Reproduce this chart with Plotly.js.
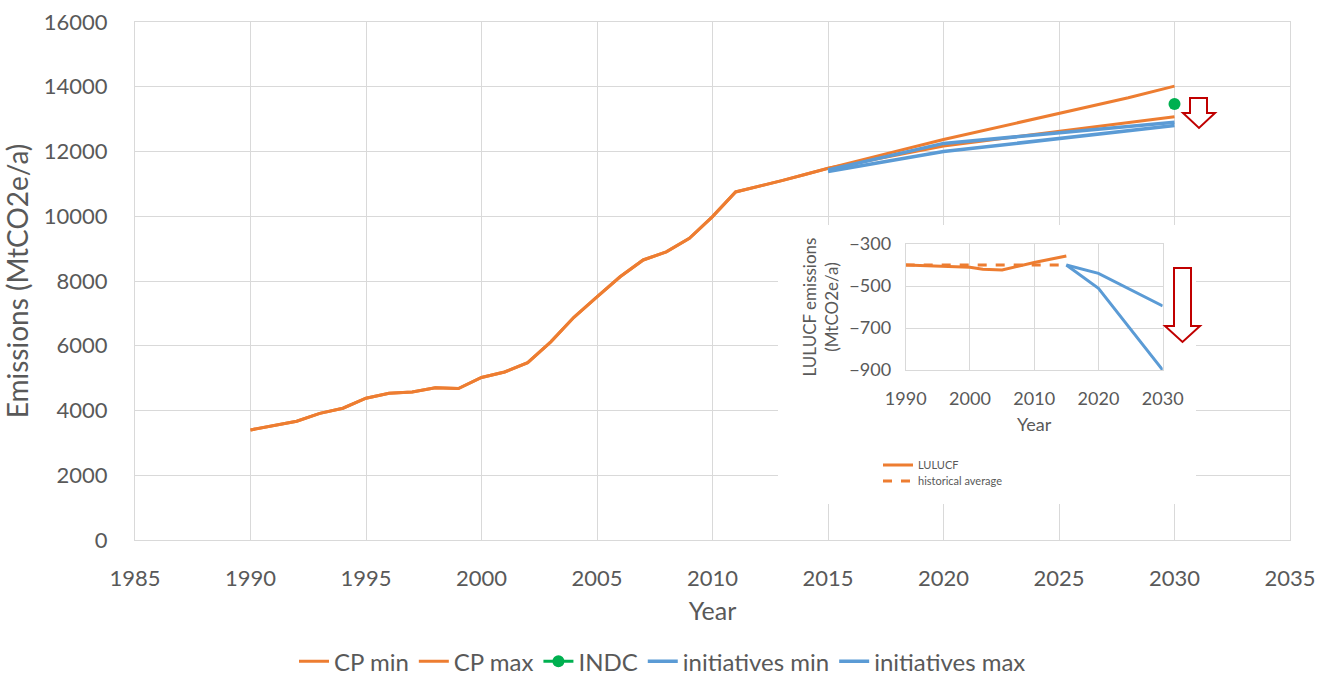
<!DOCTYPE html>
<html>
<head>
<meta charset="utf-8">
<script src="https://cdn.plot.ly/plotly-3.0.1.min.js"></script>
<style>html,body{margin:0;padding:0;background:#fff;}#chart{width:1333px;height:678px;}</style>
</head>
<body>
<div id="chart"></div>
<script>
// ---- Main chart data ----
const histYears = [1990,1991,1992,1993,1994,1995,1996,1997,1998,1999,2000,2001,2002,2003,2004,2005,2006,2007,2008,2009,2010,2011,2012,2013,2014];
const histValues = [3400,3530,3670,3910,4070,4380,4530,4570,4700,4680,5020,5190,5480,6120,6880,7510,8130,8650,8900,9320,9990,10750,10920,11100,11290];
const cpMinYears = [2015,2020,2025,2028,2030];
const cpMinValues = [11480,12170,12620,12880,13070];
const cpMaxYears = [2015,2020,2025,2028,2030];
const cpMaxValues = [11480,12370,13170,13660,14020];
const indcYears = [2030];
const indcValues = [13470];
const initMinYears = [2015,2020,2030];
const initMinValues = [11380,12000,12800];
const initMaxYears = [2015,2020,2030];
const initMaxValues = [11430,12250,12900];

// ---- Inset (LULUCF) data ----
const lulucfYears = [1990,2000,2002,2005,2010,2015];
const lulucfValues = [-400,-411,-420,-424,-388,-357];
const histAvgYears = [1990,2015];
const histAvgValues = [-400,-400];
const insetInitMinYears = [2015,2020,2030];
const insetInitMinValues = [-400,-511,-900];
const insetInitMaxYears = [2015,2020,2030];
const insetInitMaxValues = [-400,-440,-595];

const ORANGE = '#ED7D31', BLUE = '#5B9BD5', GREEN = '#00B050', RED = '#C00000';
const TXT = '#595959', GRID = '#D9D9D9';
const FONT = 'Lato, "Open Sans", sans-serif';

const traces = [
  {x: histYears.concat(cpMinYears), y: histValues.concat(cpMinValues), name: 'CP min', mode: 'lines',
   line: {color: ORANGE, width: 3}, xaxis: 'x', yaxis: 'y', legend: 'legend'},
  {x: histYears.concat(cpMaxYears), y: histValues.concat(cpMaxValues), name: 'CP max', mode: 'lines',
   line: {color: ORANGE, width: 3}, xaxis: 'x', yaxis: 'y', legend: 'legend'},
  {x: indcYears, y: indcValues, name: 'INDC', mode: 'lines+markers',
   line: {color: GREEN, width: 3}, marker: {color: GREEN, size: 12}, xaxis: 'x', yaxis: 'y', legend: 'legend'},
  {x: initMinYears, y: initMinValues, name: 'initiatives min', mode: 'lines',
   line: {color: BLUE, width: 3.5}, xaxis: 'x', yaxis: 'y', legend: 'legend'},
  {x: initMaxYears, y: initMaxValues, name: 'initiatives max', mode: 'lines',
   line: {color: BLUE, width: 3.5}, xaxis: 'x', yaxis: 'y', legend: 'legend'},
  // inset
  {x: lulucfYears, y: lulucfValues, name: 'LULUCF', mode: 'lines',
   line: {color: ORANGE, width: 3}, xaxis: 'x2', yaxis: 'y2', legend: 'legend2'},
  {x: histAvgYears, y: histAvgValues, name: 'historical average', mode: 'lines',
   line: {color: ORANGE, width: 3, dash: 'dash'}, xaxis: 'x2', yaxis: 'y2', legend: 'legend3'},
  {x: insetInitMinYears, y: insetInitMinValues, name: 'initiatives min (LULUCF)', mode: 'lines', showlegend: false,
   line: {color: BLUE, width: 3}, xaxis: 'x2', yaxis: 'y2'},
  {x: insetInitMaxYears, y: insetInitMaxValues, name: 'initiatives max (LULUCF)', mode: 'lines', showlegend: false,
   line: {color: BLUE, width: 3}, xaxis: 'x2', yaxis: 'y2'}
];

// pixel -> paper / data helpers for decorations
const L = 135, R = 1290, T = 22, B = 540;
const X0 = 1985, X1 = 2035, Y0 = 0, Y1 = 16000;
const px = v => (v - L) / (R - L);
const py = v => (B - v) / (B - T);
const dx = v => X0 + px(v) * (X1 - X0);
const dy = v => Y0 + py(v) * (Y1 - Y0);
function arrowPath(stemL, stemR, top, headY, headL, headR, tipX, tipY) {
  const pts = [[stemL,top],[stemR,top],[stemR,headY],[headR,headY],[tipX,tipY],[headL,headY],[stemL,headY]];
  return 'M' + pts.map(p => px(p[0]).toFixed(5) + ',' + py(p[1]).toFixed(5)).join(' L') + ' Z';
}

const smallLegend = (xPix, yPix) => ({
  orientation: 'v', x: px(xPix), xanchor: 'left', y: py(yPix), yanchor: 'middle',
  bgcolor: 'rgba(0,0,0,0)', itemwidth: 30, tracegroupgap: 0,
  font: {size: 11, color: TXT, family: FONT}
});

const layout = {
  width: 1333, height: 678,
  margin: {l: L, r: 1333 - R, t: T, b: 678 - B},
  paper_bgcolor: '#FFFFFF', plot_bgcolor: '#FFFFFF',
  font: {family: FONT, color: TXT, size: 20},
  showlegend: true,
  xaxis: {
    domain: [0, 1], range: [X0, X1], dtick: 5, tick0: 1985,
    showgrid: true, gridcolor: GRID, gridwidth: 1, zeroline: false,
    showline: true, linecolor: GRID, linewidth: 1, mirror: true,
    ticks: '', ticklabelstandoff: 19, exponentformat: 'none', separatethousands: false,
    tickfont: {size: 22, color: TXT, family: FONT},
    title: {text: 'Year', font: {size: 25, color: TXT, family: FONT}, standoff: 12}
  },
  yaxis: {
    domain: [0, 1], range: [Y0, Y1], dtick: 2000,
    showgrid: true, gridcolor: GRID, gridwidth: 1, zeroline: false,
    showline: true, linecolor: GRID, linewidth: 1, mirror: true,
    ticks: '', ticklabelstandoff: 22, exponentformat: 'none', separatethousands: false, tickformat: 'd',
    tickfont: {size: 22, color: TXT, family: FONT},
    title: {text: 'Emissions (MtCO2e/a)', font: {size: 28, color: TXT, family: FONT}, standoff: 6}
  },
  xaxis2: {
    domain: [px(905.7), px(1162.7)], anchor: 'y2', range: [1990, 2030], dtick: 10, tick0: 1990,
    showgrid: true, gridcolor: GRID, zeroline: false,
    showline: true, linecolor: GRID, linewidth: 1, mirror: true,
    ticks: '', ticklabelstandoff: 12,
    tickfont: {size: 18, color: TXT, family: FONT},
    title: {text: 'Year', font: {size: 18, color: TXT, family: FONT}, standoff: 10}
  },
  yaxis2: {
    domain: [py(370), py(244)], anchor: 'x2', range: [-900, -300], dtick: 200, tick0: -300,
    showgrid: true, gridcolor: GRID, zeroline: false,
    showline: true, linecolor: GRID, linewidth: 1, mirror: true,
    ticks: '', ticklabelstandoff: 10,
    tickfont: {size: 18, color: TXT, family: FONT},
    title: {text: 'LULUCF emissions<br>(MtCO2e/a)', font: {size: 17, color: TXT, family: FONT}, standoff: 6}
  },
  legend: {
    orientation: 'h', xref: 'container', yref: 'container', x: 0.497, xanchor: 'center',
    y: 0.024, yanchor: 'middle', itemwidth: 30, bgcolor: 'rgba(0,0,0,0)',
    font: {size: 24, color: TXT, family: FONT}, traceorder: 'normal'
  },
  legend2: smallLegend(878, 465),
  legend3: smallLegend(878, 481),
  shapes: [
    // white panel behind inset, above main gridlines
    {type: 'rect', xref: 'x', yref: 'y', x0: dx(778), x1: dx(1196), y0: dy(504), y1: dy(225),
     fillcolor: '#FFFFFF', line: {width: 0}, layer: 'between'},
    // arrows
    {type: 'path', xref: 'paper', yref: 'paper', layer: 'above',
     path: arrowPath(1190, 1207, 98, 113, 1183, 1215, 1199, 128),
     fillcolor: '#FFFFFF', line: {color: RED, width: 2}},
    {type: 'path', xref: 'paper', yref: 'paper', layer: 'above',
     path: arrowPath(1174, 1191, 268, 326, 1165, 1200, 1182.5, 342),
     fillcolor: '#FFFFFF', line: {color: RED, width: 2}}
  ]
};

Plotly.newPlot('chart', traces, layout, {staticPlot: true, displayModeBar: false});
</script>
</body>
</html>
